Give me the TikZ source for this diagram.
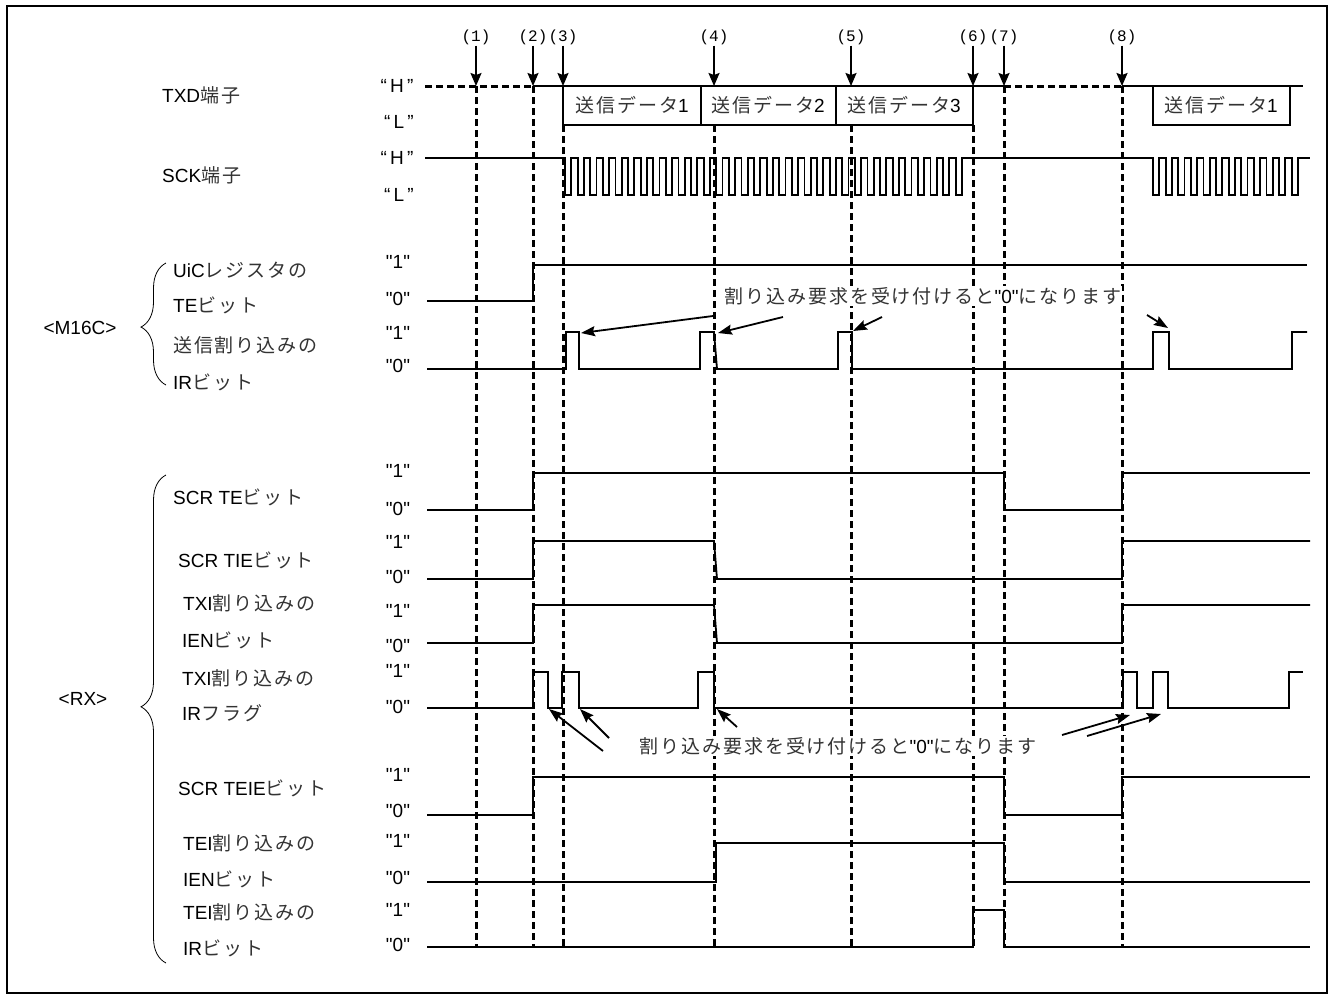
\documentclass[tikz,border=0pt]{standalone}
\usepackage{fontspec}
\setmainfont{Liberation Sans}
\newfontfamily\jpfont[LetterSpace=10]{Noto Sans CJK JP}
\newfontfamily\evfont{Liberation Mono}
\newcommand{\jtext}[1]{{\jpfont\color{black!80}#1}}
\newcommand{\dq}{\textquotedbl}
\usetikzlibrary{arrows.meta,decorations.pathreplacing}

\begin{document}
\begin{tikzpicture}[
    x=1pt, y=-1pt,
    % Line styles
    sig/.style={line width=1.8pt, line join=miter},
    sigdash/.style={line width=3pt, dash pattern=on 7pt off 4pt},
    event/.style={line width=3pt, dash pattern=on 7pt off 4pt},
    evarrow/.style={line width=1.8pt, -{Stealth[length=13pt, width=11pt, inset=2pt]}},
    note/.style={line width=1.8pt, -{Stealth[length=14pt, width=10pt, inset=2pt]}},
    grpbrace/.style={decorate, decoration={brace, amplitude=25pt, aspect=#1}, line width=0.8pt},
    % Label styles
    evlabel/.style={font=\evfont\fontsize{16}{18}\selectfont, inner sep=1pt},
    level/.style={font=\fontsize{19}{22}\selectfont, inner sep=0pt},
    signame/.style={font=\fontsize{19}{22}\selectfont, anchor=west, inner sep=0pt},
    group/.style={font=\fontsize{19}{22}\selectfont},
    data/.style={font=\fontsize{19}{22}\selectfont, inner sep=0pt},
    remark/.style={font=\fontsize{19}{22}\selectfont, fill=white, inner sep=1pt},
]
\useasboundingbox (0,0) rectangle (1332,996);

% Outer frame
\draw[line width=2pt] (7,6) rectangle (1327,993);

% Event markers (1)-(8) with their dashed guide lines
\foreach \x/\n/\top in {476/1/86, 533/2/86, 563/3/125, 714/4/125, 851/5/125, 973/6/125, 1004/7/86, 1122/8/86} {
    \node[evlabel] (ev\n) at (\x,37) {(\n)};
    \draw[evarrow] (ev\n.south) -- (\x,86);
    \draw[event] (\x,\top) -- (\x,947);
}

% Signal names
\node[signame] (txd-name) at (162,95) {TXD\jtext{端子}};
\node[signame] (sck-name) at (162,175) {SCK\jtext{端子}};
\node[signame] (uic-name) at (173,270) {UiC\jtext{レジスタの}};
\node[signame] (uic-bit) at (173,305) {TE\jtext{ビット}};
\node[signame] (tir-name) at (173,345) {\jtext{送信割り込みの}};
\node[signame] (tir-bit) at (173,382) {IR\jtext{ビット}};
\node[signame] (te-name) at (173,497) {SCR TE\jtext{ビット}};
\node[signame] (tie-name) at (178,560) {SCR TIE\jtext{ビット}};
\node[signame] (txien-name) at (183,603) {TXI\jtext{割り込みの}};
\node[signame] (txien-bit) at (182,640) {IEN\jtext{ビット}};
\node[signame] (txiir-name) at (182,678) {TXI\jtext{割り込みの}};
\node[signame] (txiir-bit) at (182,713) {IR\jtext{フラグ}};
\node[signame] (teie-name) at (178,788) {SCR TEIE\jtext{ビット}};
\node[signame] (teien-name) at (183,843) {TEI\jtext{割り込みの}};
\node[signame] (teien-bit) at (183,879) {IEN\jtext{ビット}};
\node[signame] (teiir-name) at (183,912) {TEI\jtext{割り込みの}};
\node[signame] (teiir-bit) at (183,948) {IR\jtext{ビット}};

% Groups
\node[group] (m16c) at (80,328) {<M16C>};
\node[group] (rx) at (83,699) {<RX>};
\draw[grpbrace=0.475] (166,385) -- (166,263);
\draw[grpbrace=0.525] (166,963) -- (166,475);

% Level labels
\node[level] (txd-h) at (397,86) {“\,H\,”};
\node[level] (txd-l) at (399,122) {“\,L\,”};
\node[level] (sck-h) at (397,158) {“\,H\,”};
\node[level] (sck-l) at (399,195) {“\,L\,”};
\foreach \y/\v in {262/1, 299/0, 333/1, 366/0, 471/1, 509/0, 542/1, 577/0, 611/1, 646/0, 671/1, 707/0, 775/1, 811/0, 841/1, 878/0, 910/1, 945/0}
    \node[level] (lv-\y) at (398,\y) {\dq\v\dq};

% TXD pin
\draw[sigdash] (425,86) -- (533,86);
\draw[sig] (533,86) -- (1004,86);
\draw[sig] (563,86) -- (563,125) -- (973,125) -- (973,86);
\draw[sig] (701,86) -- (701,125);
\draw[sig] (836,86) -- (836,125);
\draw[sigdash] (1004,86) -- (1122,86);
\draw[sig] (1122,86) -- (1303,86);
\draw[sig] (1153,86) -- (1153,125) -- (1290,125) -- (1290,86);
\node[data] (tx-1) at (632,105) {\jtext{送信データ}1};
\node[data] (tx-2) at (768,105) {\jtext{送信データ}2};
\node[data] (tx-3) at (904,105) {\jtext{送信データ}3};
\node[data] (tx-4) at (1221,105) {\jtext{送信データ}1};

% SCK pin
\draw[sig] (425,158) -- (565,158)
    \foreach \i in {1,...,32} { -- ++(0,37) -- ++(6.3,0) -- ++(0,-37) -- ++(6.3,0) }
    -- (1153,158)
    \foreach \i in {1,...,12} { -- ++(0,37) -- ++(6.3,0) -- ++(0,-37) -- ++(6.3,0) }
    -- ++(6,0);

% M16C
\draw[sig] (427,301) -| (533,265) -- (1307,265);
\draw[sig] (427,369) -| (566,332) -| (579,369) -| (700,332) -- (714,332) -- (717,369)
    -| (838,332) -| (852,369) -| (1153,332) -| (1169,369) -| (1292,332) -- (1307,332);

% RX
\draw[sig] (427,510) -| (533,473) -| (1004,510) -| (1122,473) -- (1310,473);
\draw[sig] (427,579) -| (533,541) -- (714,541) -- (717,579) -| (1122,541) -- (1310,541);
\draw[sig] (427,643) -| (533,605) -- (714,605) -- (717,643) -| (1122,605) -- (1310,605);
\draw[sig] (427,708) -| (533,672) -| (548,708) -| (562,672) -| (579,708) -| (698,672) -| (714,708)
    -| (1123,672) -| (1137,708) -| (1153,672) -| (1168,708) -| (1289,672) -- (1303,672);
\draw[sig] (427,815) -| (533,777) -| (1004,815) -| (1122,777) -- (1310,777);
\draw[sig] (427,882) -| (716,843) -| (1004,882) -- (1310,882);
\draw[sig] (427,947) -| (973,910) -| (1004,947) -- (1310,947);

% Remarks
\node[remark] (note-m16c) at (923,296) {\jtext{割り込み要求を受け付けると}\dq0\dq\jtext{になります}};
\node[remark] (note-rx) at (838,746) {\jtext{割り込み要求を受け付けると}\dq0\dq\jtext{になります}};
\draw[note] (713,316) -- (581,333);
\draw[note] (783,317) -- (718,333);
\draw[note] (882,317) -- (853,331);
\draw[note] (1147,315) -- (1168,328);
\draw[note] (603,751) -- (549,709);
\draw[note] (609,738) -- (580,709);
\draw[note] (737,727) -- (717,709);
\draw[note] (1062,735) -- (1130,715);
\draw[note] (1087,736) -- (1161,714);

\end{tikzpicture}
\end{document}
